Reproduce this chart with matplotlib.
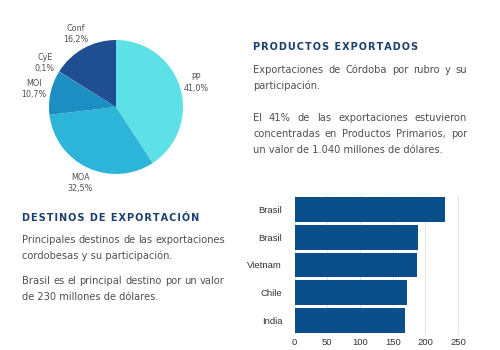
import matplotlib.pyplot as plt

# datos del grafico de torta (participacion por rubro, %)
rubros = ['PP', 'MOA', 'MOI', 'CyE', 'Conf']
participacion = [41.0, 32.5, 10.7, 0.1, 16.2]
colores_torta = ['#5de0e6', '#2cb4d9', '#1c8ec2', '#1c8ec2', '#1f4e93']

# destinos de exportacion (millones de dolares)
destinos = ['Brasil', 'Brasil', 'Vietnam', 'Chile', 'India']
valores = [230, 188, 187, 171, 168]
ticks_x = [0, 50, 100, 150, 200, 250]

W, H = 500, 350
fig = plt.figure(figsize=(5, 3.5), dpi=100)
fig.patch.set_facecolor('white')


def px(x, y):
    return x / W, 1 - y / H


def caja(x0, y0, x1, y1):
    return [x0 / W, 1 - y1 / H, (x1 - x0) / W, (y1 - y0) / H]


# torta
ax1 = fig.add_axes(caja(116 - 80, 107 - 80, 116 + 80, 107 + 80))
etiquetas = [f'{r}\n{str(p).replace(".", ",")}%' for r, p in zip(rubros, participacion)]
wedges, textos = ax1.pie(participacion, labels=etiquetas, colors=colores_torta,
                         startangle=90, counterclock=False, labeldistance=1.25,
                         textprops={'fontsize': 5.8, 'color': '#505050',
                                    'linespacing': 1.3})
for t in textos:
    t.set_ha('center')
    t.set_va('center')
lim = 80 / 67
ax1.set_xlim(-lim, lim)
ax1.set_ylim(-lim, lim)
ax1.set_aspect('equal')
ax1.axis('off')

# barras
ax2 = fig.add_axes(caja(294.7, 196, 468, 334))
pos = list(range(len(destinos)))[::-1]
ax2.barh(pos, valores, height=0.9, color='#0b4f8a', zorder=3)
ax2.set_yticks(pos)
ax2.set_yticklabels(destinos)
ax2.set_xticks(ticks_x)
ax2.set_xlim(0, 265)
ax2.set_ylim(-0.5, 4.5)
ax2.grid(axis='x', color='#e3e3e3', linewidth=0.8, zorder=0)
for s in ax2.spines.values():
    s.set_visible(False)
ax2.tick_params(axis='y', length=0, labelsize=6.8, labelcolor='#333333', pad=9)
ax2.tick_params(axis='x', length=0, labelsize=6.8, labelcolor='#333333', pad=3)
for t in ax2.get_xticklabels() + ax2.get_yticklabels():
    t.set_family('Liberation Sans')

# textos
titulo = dict(fontsize=7.0, fontweight='bold', color='#1b3f6e', va='center',
              family='DejaVu Sans')
cuerpo = dict(fontsize=7.1, color='#505050', va='center', family='DejaVu Sans')
hs = '\u200a'
rend = fig.canvas.get_renderer()
medidor = fig.text(0, 0, '', **cuerpo)


def ancho_txt(s):
    medidor.set_text(s)
    return medidor.get_window_extent(rend).width


def parrafo(x0, ancho, y, texto, justificar):
    # texto justificado a mano: reparte el espacio sobrante entre palabras
    if not justificar:
        fig.text(*px(x0, y), texto, **cuerpo)
        return
    palabras = texto.split(' ')
    extra = (ancho - ancho_txt(texto)) / (len(palabras) - 1)
    for i, p in enumerate(palabras):
        inicio = ancho_txt(' '.join(palabras[:i + 1])) - ancho_txt(p)
        fig.text(*px(x0 + inicio + i * extra, y), p, **cuerpo)


fig.text(*px(253, 47), hs.join('PRODUCTOS EXPORTADOS'), **titulo)
lineas1 = [('Exportaciones de Córdoba por rubro y su', True),
           ('participación.', False),
           ('El 41% de las exportaciones estuvieron', True),
           ('concentradas en Productos Primarios, por', True),
           ('un valor de 1.040 millones de dólares.', False)]
ys1 = [70, 86, 118, 134, 150]
for (l, j), y in zip(lineas1, ys1):
    parrafo(253, 214, y, l, j)

fig.text(*px(22, 218), hs.join('DESTINOS DE EXPORTACIÓN'), **titulo)
lineas2 = [('Principales destinos de las exportaciones', True),
           ('cordobesas y su participación.', False),
           ('Brasil es el principal destino por un valor', True),
           ('de 230 millones de dólares.', False)]
ys2 = [240, 256, 281, 297]
for (l, j), y in zip(lineas2, ys2):
    parrafo(22, 203, y, l, j)
medidor.remove()

plt.savefig('out.png', dpi=100, facecolor='white')
